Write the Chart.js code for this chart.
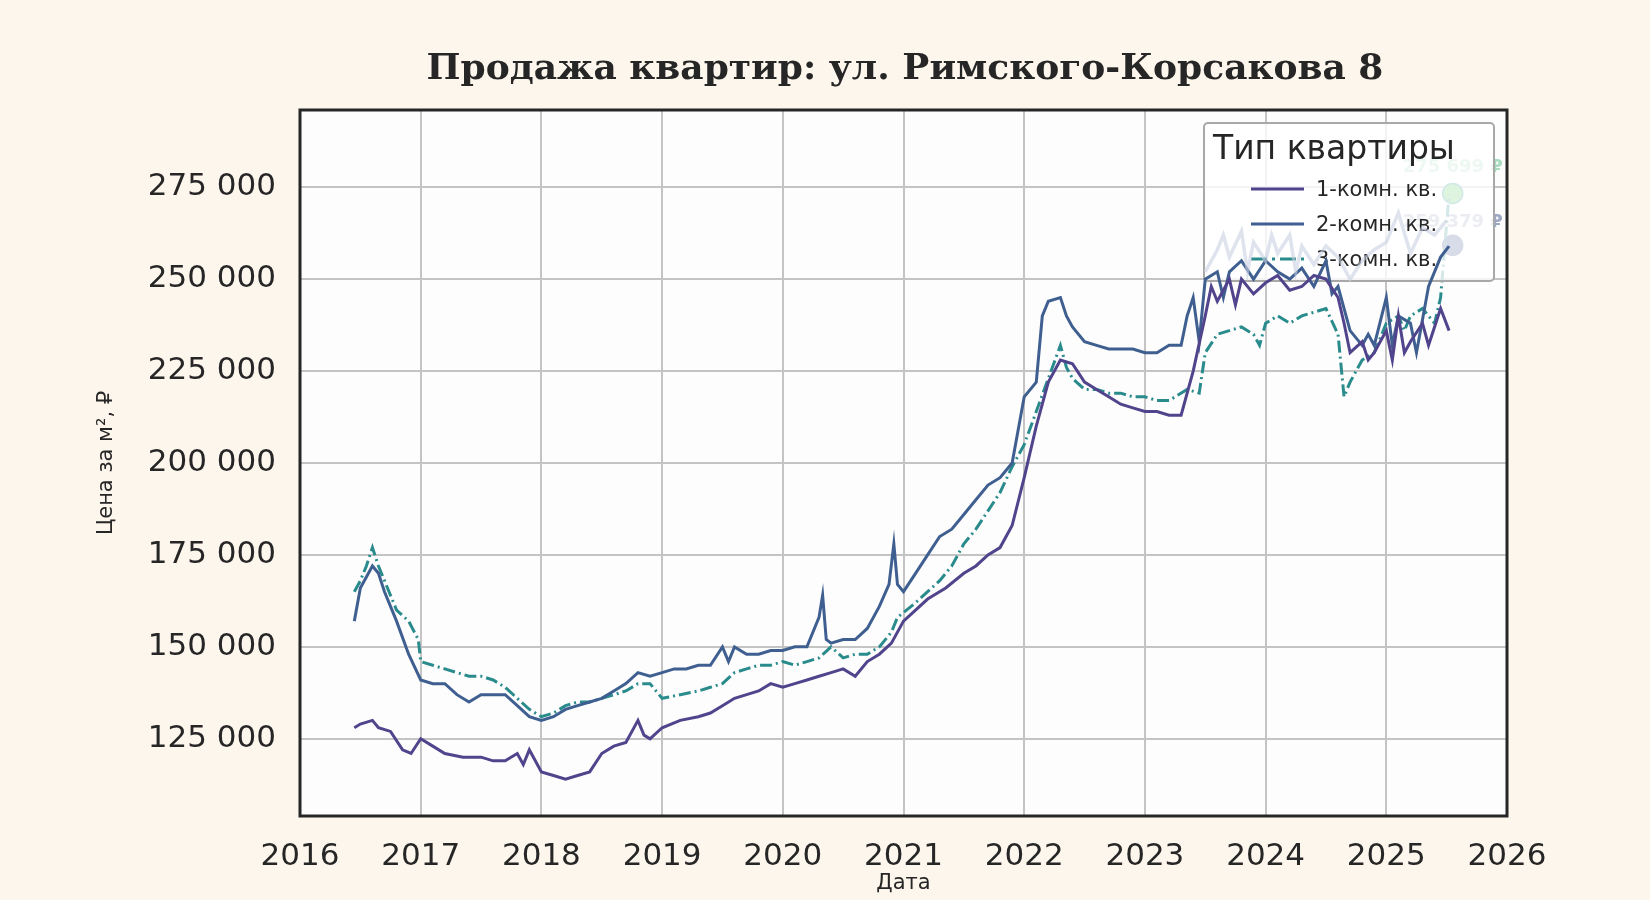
<!DOCTYPE html>
<html lang="ru">
<head>
<meta charset="UTF-8">
<title>Продажа квартир</title>
<script src="https://cdn.jsdelivr.net/npm/chart.js"></script>
<style>
  html, body { margin: 0; background: #fdf6ec; }
  #wrap { width: 1650px; height: 900px; }
</style>
</head>
<body>
<div id="wrap"><canvas id="chart" width="1650" height="900"></canvas></div>
<script>
// data (date as decimal year, price in thousand ₽)
const dates1 = [2016.45,2016.5,2016.6,2016.65,2016.75,2016.85,2016.92,2017.0,2017.1,2017.2,2017.35,2017.5,2017.6,2017.7,2017.8,2017.85,2017.9,2018.0,2018.1,2018.2,2018.3,2018.4,2018.5,2018.6,2018.7,2018.8,2018.85,2018.9,2019.0,2019.15,2019.3,2019.4,2019.5,2019.6,2019.7,2019.8,2019.9,2020.0,2020.1,2020.2,2020.3,2020.4,2020.5,2020.6,2020.7,2020.8,2020.9,2021.0,2021.1,2021.2,2021.35,2021.5,2021.6,2021.7,2021.8,2021.9,2022.0,2022.1,2022.2,2022.3,2022.4,2022.5,2022.6,2022.7,2022.8,2022.9,2023.0,2023.1,2023.2,2023.3,2023.4,2023.5,2023.55,2023.6,2023.7,2023.75,2023.8,2023.9,2024.0,2024.1,2024.2,2024.3,2024.4,2024.5,2024.6,2024.65,2024.7,2024.8,2024.85,2024.9,2025.0,2025.05,2025.1,2025.15,2025.2,2025.3,2025.35,2025.45,2025.52];
const room1 = [128,129,130,128,127,122,121,125,123,121,120,120,119,119,121,118,122,116,115,114,115,116,121,123,124,130,126,125,128,130,131,132,134,136,137,138,140,139,140,141,142,143,144,142,146,148,151,157,160,163,166,170,172,175,177,183,196,210,222,228,227,222,220,218,216,215,214,214,213,213,225,240,248,244,250,243,250,246,249,251,247,248,251,250,245,238,230,233,228,230,236,228,240,230,233,238,232,242,236];
const dates2 = [2016.45,2016.5,2016.6,2016.65,2016.7,2016.8,2016.9,2017.0,2017.1,2017.2,2017.3,2017.4,2017.5,2017.6,2017.7,2017.8,2017.9,2018.0,2018.1,2018.2,2018.3,2018.4,2018.5,2018.6,2018.7,2018.8,2018.9,2019.0,2019.1,2019.2,2019.3,2019.4,2019.5,2019.55,2019.6,2019.7,2019.8,2019.9,2020.0,2020.1,2020.2,2020.3,2020.33,2020.36,2020.4,2020.5,2020.6,2020.7,2020.8,2020.88,2020.92,2020.95,2021.0,2021.1,2021.2,2021.3,2021.4,2021.5,2021.6,2021.7,2021.8,2021.9,2022.0,2022.1,2022.15,2022.2,2022.3,2022.35,2022.4,2022.5,2022.6,2022.7,2022.8,2022.9,2023.0,2023.1,2023.2,2023.3,2023.35,2023.4,2023.45,2023.5,2023.6,2023.65,2023.7,2023.8,2023.9,2024.0,2024.1,2024.2,2024.3,2024.4,2024.5,2024.55,2024.6,2024.7,2024.8,2024.85,2024.9,2025.0,2025.05,2025.1,2025.2,2025.25,2025.35,2025.45,2025.52];
const room2 = [157,166,172,170,165,157,148,141,140,140,137,135,137,137,137,134,131,130,131,133,134,135,136,138,140,143,142,143,144,144,145,145,150,146,150,148,148,149,149,150,150,158,164,152,151,152,152,155,161,167,178,167,165,170,175,180,182,186,190,194,196,200,218,222,240,244,245,240,237,233,232,231,231,231,230,230,232,232,240,245,233,250,252,245,252,255,250,255,252,250,253,248,255,246,248,236,232,235,232,245,232,240,238,230,248,256,259];
const dates3 = [2016.45,2016.5,2016.55,2016.6,2016.65,2016.7,2016.8,2016.9,2016.98,2017.0,2017.1,2017.2,2017.3,2017.4,2017.5,2017.6,2017.7,2017.8,2017.9,2018.0,2018.1,2018.2,2018.3,2018.4,2018.5,2018.6,2018.7,2018.8,2018.9,2019.0,2019.15,2019.3,2019.4,2019.5,2019.6,2019.7,2019.8,2019.9,2020.0,2020.1,2020.2,2020.3,2020.4,2020.5,2020.6,2020.7,2020.8,2020.9,2020.95,2021.1,2021.2,2021.3,2021.4,2021.5,2021.6,2021.7,2021.8,2021.9,2022.0,2022.1,2022.2,2022.3,2022.35,2022.4,2022.5,2022.6,2022.7,2022.8,2022.9,2023.0,2023.1,2023.2,2023.35,2023.45,2023.5,2023.6,2023.7,2023.8,2023.9,2023.95,2024.0,2024.1,2024.2,2024.3,2024.4,2024.5,2024.6,2024.65,2024.7,2024.75,2024.8,2024.9,2025.0,2025.1,2025.15,2025.2,2025.3,2025.4,2025.45,2025.52];
const room3 = [165,168,172,177,172,168,160,157,152,146,145,144,143,142,142,141,139,136,133,131,132,134,135,135,136,137,138,140,140,136,137,138,139,140,143,144,145,145,146,145,146,147,150,147,148,148,150,154,158,162,165,168,172,178,182,187,192,199,205,214,223,232,226,223,220,220,219,219,218,218,217,217,220,219,230,235,236,237,235,232,238,240,238,240,241,242,235,218,222,225,228,230,238,240,236,240,242,238,245,273];
// faint background line in the top-right corner
const datesBg = [2023.5,2023.6,2023.65,2023.7,2023.8,2023.85,2023.9,2024.0,2024.05,2024.1,2024.2,2024.25,2024.3,2024.4,2024.5,2024.6,2024.7,2024.8,2024.9,2025.0,2025.1,2025.2,2025.3,2025.4,2025.5];
const roomBg = [252,258,262,256,263,252,260,255,262,257,262,252,259,254,259,256,250,255,258,260,268,257,264,262,266];
const lastDate = 2025.55;
const lastLabels = ['275 699 ₽', '259 379 ₽'];
const lastValues = [273.3, 259.2];
const yearTicks = [2016,2017,2018,2019,2020,2021,2022,2023,2024,2025,2026];
const seriesNames = ['1-комн. кв.', '2-комн. кв.', '3-комн. кв.'];
const seriesColors = ['#51448c', '#3f5f91', '#2a8b8d'];

const pts = (xs, ys) => xs.map((x, i) => ({ x: x, y: ys[i] * 1000 }));

const decor = {
  id: 'decor',
  beforeDraw(chart) {
    const { ctx, chartArea: a } = chart;
    ctx.save();
    ctx.fillStyle = '#fdfdfd';
    ctx.fillRect(a.left, a.top, a.width, a.height);
    ctx.restore();
  },
  afterDatasetDraw(chart, args) {
    if (args.index !== 3) return;
    const { ctx } = chart;
    const xs = chart.scales.x, ys = chart.scales.y;
    ctx.save();
    // end labels (under the legend)
    ctx.font = 'bold 18px "DejaVu Sans"';
    ctx.textAlign = 'left';
    ctx.fillStyle = 'rgba(110,200,150,0.6)';
    ctx.fillText(lastLabels[0], xs.getPixelForValue(lastDate) - 50, ys.getPixelForValue(lastValues[0] * 1000) - 21);
    ctx.fillStyle = 'rgba(60,82,139,0.5)';
    ctx.fillText(lastLabels[1], xs.getPixelForValue(lastDate) - 50, ys.getPixelForValue(lastValues[1] * 1000) - 18);

    // legend box
    const lx = 1204, ly = 123, lw = 290, lh = 158;
    ctx.fillStyle = 'rgba(255,255,255,0.8)';
    ctx.strokeStyle = '#a8a8a8';
    ctx.lineWidth = 2;
    ctx.beginPath();
    ctx.roundRect(lx, ly, lw, lh, 4);
    ctx.fill();
    ctx.stroke();
    ctx.fillStyle = '#262626';
    ctx.font = '33px "DejaVu Sans"';
    ctx.fillText('Тип квартиры', lx + 9, ly + 36);
    ctx.font = '21px "DejaVu Sans"';
    seriesNames.forEach((n, i) => {
      const yy = ly + 66 + i * 35;
      ctx.strokeStyle = seriesColors[i];
      ctx.lineWidth = 3;
      ctx.setLineDash(i === 2 ? [16, 5, 3, 5] : []);
      ctx.beginPath();
      ctx.moveTo(lx + 47, yy);
      ctx.lineTo(lx + 100, yy);
      ctx.stroke();
      ctx.setLineDash([]);
      ctx.fillStyle = '#262626';
      ctx.fillText(n, lx + 112, yy + 7);
    });
    ctx.restore();
  },
  afterDraw(chart) {
    const { ctx, chartArea: a } = chart;
    ctx.save();
    ctx.strokeStyle = '#262626';
    ctx.lineWidth = 3;
    ctx.strokeRect(a.left, a.top, a.width, a.height);
    ctx.fillStyle = '#262626';
    ctx.font = 'bold 36px "DejaVu Serif"';
    ctx.textAlign = 'center';
    ctx.fillText('Продажа квартир: ул. Римского-Корсакова 8', 905, 79);
    ctx.restore();
  }
};

new Chart('chart', {
  type: 'line',
  data: {
    datasets: [
      { label: 'bg', data: pts(datesBg, roomBg), borderColor: 'rgba(200,208,225,0.6)', borderWidth: 3.5, pointRadius: 0, tension: 0 },
      { label: seriesNames[0], data: pts(dates1, room1), borderColor: seriesColors[0], borderWidth: 3, pointRadius: 0, tension: 0 },
      { label: seriesNames[1], data: pts(dates2, room2), borderColor: seriesColors[1], borderWidth: 3, pointRadius: 0, tension: 0 },
      { label: seriesNames[2], data: pts(dates3, room3), borderColor: seriesColors[2], borderWidth: 3, borderDash: [12, 4, 2, 4], pointRadius: 0, tension: 0 },
      { type: 'scatter', label: 'last', data: lastValues.map(v => ({ x: lastDate, y: v * 1000 })),
        backgroundColor: ['#5ec962', '#3b528b'], borderColor: ['#21918c', '#3b528b'], borderWidth: 1.5, pointRadius: 10 }
    ]
  },
  options: {
    responsive: false,
    animation: false,
    layout: { padding: { left: 90, top: 110, right: 143, bottom: 0 } },
    plugins: { legend: { display: false }, tooltip: { enabled: false }, title: { display: false } },
    scales: {
      x: {
        type: 'linear', min: 2016, max: 2026,
        afterBuildTicks: s => { s.ticks = yearTicks.map(v => ({ value: v })); },
        afterFit: s => { s.height = 84; },
        grid: { color: '#c4c4c4', lineWidth: 2, drawTicks: false },
        border: { display: false },
        ticks: { color: '#262626', font: { size: 31, family: 'DejaVu Sans' }, padding: 22, maxRotation: 0, callback: v => String(v) },
        title: { display: true, text: 'Дата', color: '#262626', font: { size: 21, family: 'DejaVu Sans' }, padding: { top: 2 } }
      },
      y: {
        min: 104000, max: 296000,
        afterBuildTicks: s => { s.ticks = [125000,150000,175000,200000,225000,250000,275000].map(v => ({ value: v })); },
        afterFit: s => { s.width = 210; },
        grid: { color: '#c4c4c4', lineWidth: 2, drawTicks: false },
        border: { display: false },
        ticks: { color: '#262626', font: { size: 31, family: 'DejaVu Sans' }, padding: 24,
          callback: v => v.toLocaleString('ru-RU').replace(/\s/g, ' ') },
        title: { display: true, text: 'Цена за м², ₽', color: '#262626', font: { size: 21, family: 'DejaVu Sans' }, padding: { bottom: 10 } }
      }
    }
  },
  plugins: [decor]
});
</script>
</body>
</html>
